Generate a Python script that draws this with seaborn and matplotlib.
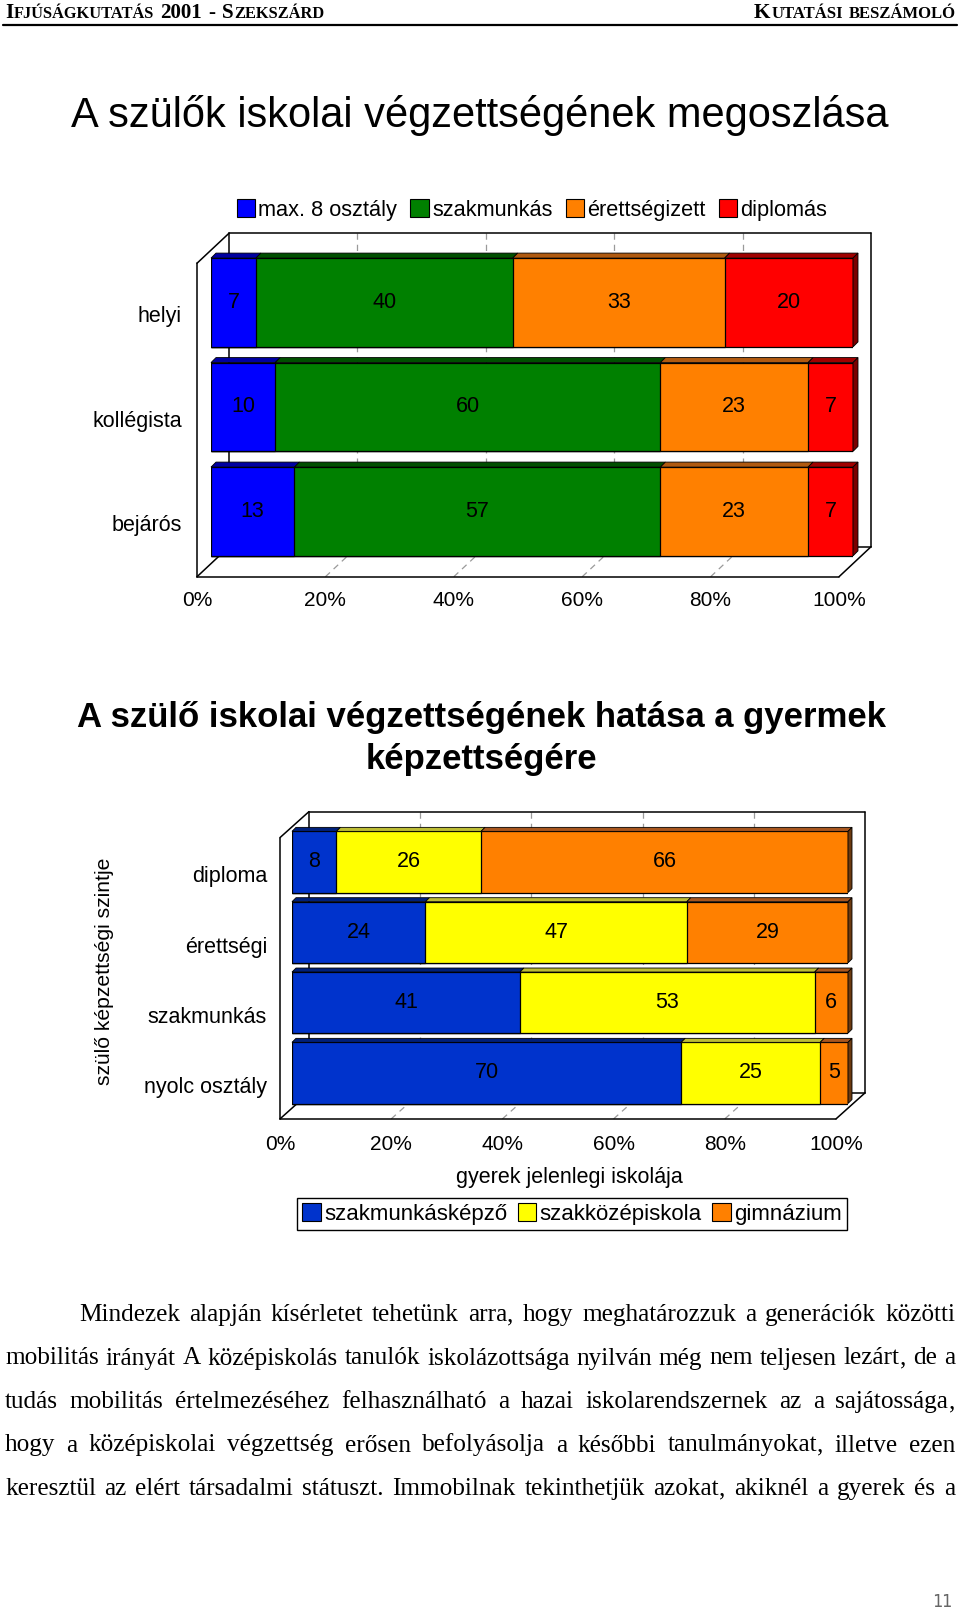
import numpy as np
import pandas as pd
import matplotlib
matplotlib.use("Agg")
import matplotlib.pyplot as plt
import seaborn as sns
from matplotlib.patches import Polygon, Patch

W, H = 960, 1613

# chart 1: parents' schooling by residence type
loc_cats = ["helyi", "kollégista", "bejárós"]
par_labels = ["max. 8 osztály", "szakmunkás", "érettségizett", "diplomás"]
par_max8 = [7, 10, 13]
par_szak = [40, 60, 57]
par_erett = [33, 23, 23]
par_dipl = [20, 7, 7]
par_colors = ["#0000FF", "#008000", "#FF8000", "#FF0000"]
par_tops = ["#0000A0", "#005000", "#B05A10", "#A00000"]

# chart 2: parent's level vs child's current school
edu_cats = ["diploma", "érettségi", "szakmunkás", "nyolc osztály"]
kid_labels = ["szakmunkásképző", "szakközépiskola", "gimnázium"]
kid_szakm = [8, 24, 41, 70]
kid_szakk = [26, 47, 53, 25]
kid_gimn = [66, 29, 6, 5]
kid_colors = ["#0033CC", "#FFFF00", "#FF8000"]
kid_tops = ["#00207A", "#BDBD35", "#A8561E"]

pct_ticks = [0, 20, 40, 60, 80, 100]

para_lines = [
    "Mindezek alapján kísérletet tehetünk arra, hogy meghatározzuk a generációk közötti",
    "mobilitás irányát A középiskolás tanulók iskolázottsága nyilván még nem teljesen lezárt, de a",
    "tudás mobilitás értelmezéséhez felhasználható a hazai iskolarendszernek az a sajátossága,",
    "hogy a középiskolai végzettség erősen befolyásolja a későbbi tanulmányokat, illetve ezen",
    "keresztül az elért társadalmi státuszt. Immobilnak tekinthetjük azokat, akiknél a gyerek és a",
]

sns.set_style("white")
plt.rcParams["font.family"] = ["Liberation Sans", "DejaVu Sans"]
plt.rcParams["text.color"] = "black"

fig = plt.figure(figsize=(W / 100, H / 100), dpi=100)
renderer = fig.canvas.get_renderer()


def fx(px):
    return px / W


def fy(py):
    return 1 - py / H


def add_axes_px(left, top, width, height):
    return fig.add_axes([fx(left), fy(top + height), width / W, height / H])


def stacked_3d(ax, cats, series, colors, tops, side_color, width, ax_w, ax_h,
               front, back, depth, tick_px, lab_px, lab_dy, fs=15.5):
    n = len(cats)
    vals = np.array(series, float)
    cum = vals.cumsum(axis=0)
    for i in reversed(range(len(series))):
        df = pd.DataFrame({"cat": cats, "v": cum[i]})
        sns.barplot(data=df, x="v", y="cat", orient="h", color=colors[i],
                    saturation=1, width=width, edgecolor="black",
                    linewidth=0.9, ax=ax, zorder=2)
    ax.set_xlim(0, 100)
    ax.set_ylim(n - 0.5, -0.5)
    ax.axis("off")

    ppx, ppy = ax_w / 100, ax_h / n
    fdx, fdy = front[0] / ppx, front[1] / ppy
    bdx, bdy = back[0] / ppx, back[1] / ppy
    yt, yb = -0.5, n - 0.5
    fxl, fxr, fyt, fyb = fdx, 100 + fdx, yt + fdy, yb + fdy
    bxl, bxr, byt, byb = bdx, 100 + bdx, yt + bdy, yb + bdy

    kw = dict(color="black", lw=1.1, clip_on=False, zorder=1)
    box = [((fxl, fxl), (fyt, fyb)), ((fxl, bxl), (fyt, byt)),
           ((bxl, bxr), (byt, byt)), ((bxr, bxr), (byt, byb)),
           ((bxr, fxr), (byb, fyb)), ((fxl, fxr), (fyb, fyb)),
           ((fxl, bxl), (fyb, byb)), ((bxl, bxl), (byt, byb)),
           ((bxl, bxr), (byb, byb))]
    for xs, ys in box:
        ax.plot(xs, ys, **kw)
    gkw = dict(color="#9a9a9a", lw=0.9, ls=(0, (5, 4)), clip_on=False, zorder=0.8)
    for p in pct_ticks[1:-1]:
        ax.plot((p + bdx, p + bdx), (byt, byb), **gkw)
        ax.plot((p + fdx, p + bdx), (fyb, byb), **gkw)

    ddx, ddy = depth[0] / ppx, depth[1] / ppy
    for r in range(n):
        top_y = r - width / 2
        bot_y = r + width / 2
        left = 0.0
        for i in range(len(series)):
            a, b = left, left + vals[i, r]
            ax.add_patch(Polygon([(a, top_y), (b, top_y), (b + ddx, top_y + ddy),
                                  (a + ddx, top_y + ddy)], closed=True,
                                 facecolor=tops[i], edgecolor="black", lw=0.6,
                                 clip_on=False, zorder=3))
            ax.text((a + b) / 2, r, f"{vals[i, r]:.0f}", ha="center", va="center",
                    fontsize=fs, color="black", zorder=5)
            left = b
        ax.add_patch(Polygon([(left, top_y), (left, bot_y), (left + ddx, bot_y + ddy),
                              (left + ddx, top_y + ddy)], closed=True,
                             facecolor=side_color, edgecolor="black", lw=0.6,
                             clip_on=False, zorder=3))
        ax.text(lab_px / ppx, r + lab_dy / ppy, cats[r], ha="right", va="center",
                fontsize=fs, color="black")
    ty = -0.5 + tick_px / ppy
    for p in pct_ticks:
        ax.text(p + fdx, ty, f"{p}%", ha="center", va="center", fontsize=fs - 0.5,
                color="black")


# header
def small_caps(x, y, parts, total_w, base=13.0):
    objs = []
    for s, rel, gap in parts:
        t = fig.text(0, 0, s, fontsize=base * rel, fontweight="bold",
                     family=["Liberation Serif", "DejaVu Serif"], va="baseline")
        objs.append((t, rel, gap))
    widths = [t.get_window_extent(renderer).width for t, _, _ in objs]
    gaps = [(g + 0.04) * base * 100 / 72 for _, _, g in objs[:-1]]
    scale = total_w / (sum(widths) + sum(gaps))
    cur = x
    for t, rel, gap in objs:
        t.set_fontsize(base * rel * scale)
        t.set_position((fx(cur), fy(y)))
        w = t.get_window_extent(renderer).width
        cur += w + (gap + 0.04) * base * scale * 100 / 72


small_caps(5, 18, [("I", 1, 0), ("FJÚSÁGKUTATÁS", 0.78, 0.25), ("2001", 1, 0.25),
                   ("-", 1, 0.25), ("S", 1, 0), ("ZEKSZÁRD", 0.78, 0)], 319)
small_caps(754, 18, [("K", 1, 0), ("UTATÁSI", 0.78, 0.25), ("BESZÁMOLÓ", 0.78, 0)], 203)
fig.add_artist(plt.Line2D([fx(3), fx(957)], [fy(25), fy(25)], color="black", lw=1.6))

# chart 1
fig.text(fx(480), fy(116), "A szülők iskolai végzettségének megoszlása",
         ha="center", va="center", fontsize=30)
ax1 = add_axes_px(211, 250.25, 642, 313.5)
stacked_3d(ax1, loc_cats, [par_max8, par_szak, par_erett, par_dipl], par_colors,
           par_tops, "#7A0000", 0.85, 642, 313.5, (-14, 13), (18, -17), (5, -5),
           350.5, -29, 14)
h1 = [Patch(facecolor=c, edgecolor="black", lw=0.8) for c in par_colors]
fig.legend(h1, par_labels, loc="center", bbox_to_anchor=(fx(532), fy(210)), ncol=4,
           frameon=False, fontsize=15.7, handlelength=0.85, handleheight=0.85,
           handletextpad=0.15, columnspacing=0.6, borderaxespad=0)

# chart 2
fig.text(fx(481), fy(718), "A szülő iskolai végzettségének hatása a gyermek",
         ha="center", va="center", fontsize=25, fontweight="bold")
fig.text(fx(481), fy(760), "képzettségére", ha="center", va="center",
         fontsize=25, fontweight="bold")
ax2 = add_axes_px(292, 826.8, 556, 281.3)
stacked_3d(ax2, edu_cats, [kid_szakm, kid_szakk, kid_gimn], kid_colors, kid_tops,
           "#6B3A10", 0.87, 556, 281.3, (-12, 10.8), (17, -15.2), (4, -4),
           318, -25, 15)
fig.text(fx(104), fy(971), "szülő képzettségi szintje", rotation=90, ha="center",
         va="center", fontsize=15.2)
fig.text(fx(569), fy(1178), "gyerek jelenlegi iskolája", ha="center", va="center",
         fontsize=15.5)
h2 = [Patch(facecolor=c, edgecolor="black", lw=0.8) for c in kid_colors]
leg = fig.legend(h2, kid_labels, loc="center", bbox_to_anchor=(fx(572), fy(1214)),
                 ncol=3, frameon=True, fancybox=False, edgecolor="black",
                 framealpha=1, fontsize=16, handlelength=0.85, handleheight=0.85,
                 handletextpad=0.15, columnspacing=0.45, borderpad=0.25,
                 borderaxespad=0)
leg.get_frame().set_linewidth(1.0)

# justified paragraph; size fitted so the fullest line keeps normal spacing
serif = ["Liberation Serif", "DejaVu Serif"]
probe = fig.text(0, 0, para_lines[1], fontsize=16.8, family=serif)
para_fs = min(16.8 * 944 / probe.get_window_extent(renderer).width, 19.0)
probe.remove()
comma_pad = 0.01 * para_fs * 100 / 72
starts = [79, 5, 5, 5, 5]
right = 955
for k, line in enumerate(para_lines):
    words = line.split(" ")
    pieces = []
    for w in words:
        # a trailing comma is drawn on its own so the word keeps its baseline
        core, tail = (w[:-1], ",") if w.endswith(",") else (w, "")
        t1 = fig.text(0, 0, core, fontsize=para_fs, va="baseline", family=serif)
        w1 = t1.get_window_extent(renderer).width
        t2, w2 = None, 0.0
        if tail:
            t2 = fig.text(0, 0, tail, fontsize=para_fs, va="baseline", family=serif)
            w2 = t2.get_window_extent(renderer).width + comma_pad
        pieces.append((t1, w1, t2, w2))
    total = sum(p[1] + p[3] for p in pieces)
    gap = (right - starts[k] - total) / (len(words) - 1)
    cur = starts[k]
    base_y = 1314 + k * 43.5 + 7
    for t1, w1, t2, w2 in pieces:
        t1.set_position((fx(cur), fy(base_y)))
        if t2 is not None:
            t2.set_position((fx(cur + w1 + comma_pad), fy(base_y)))
        cur += w1 + w2 + gap

fig.text(fx(942), fy(1602), "11", ha="center", va="center", fontsize=12,
         color="#666666", family="DejaVu Sans Mono")

fig.savefig("out.png", dpi=100, facecolor="white")
